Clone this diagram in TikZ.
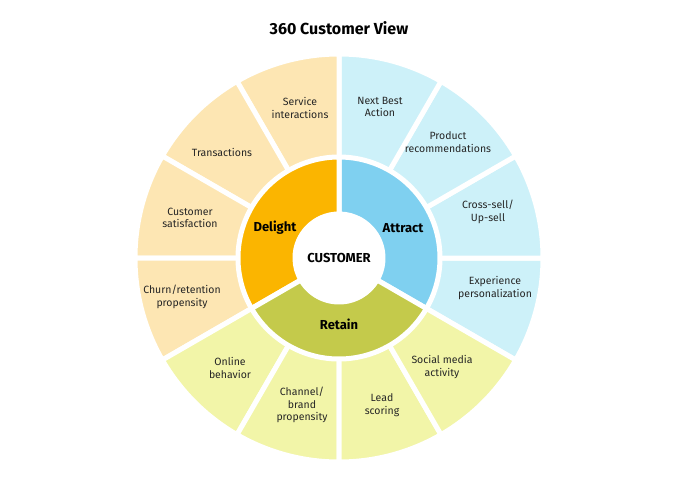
\documentclass[tikz,border=0pt]{standalone}
\usepackage{fontspec}
\setmainfont{Fira Sans}
\usetikzlibrary{positioning}
\definecolor{attractout}{HTML}{CDF1F9}
\definecolor{attractin}{HTML}{7FD0F0}
\definecolor{delightout}{HTML}{FDE6B3}
\definecolor{delightin}{HTML}{FBB500}
\definecolor{retainout}{HTML}{F2F5A8}
\definecolor{retainin}{HTML}{C4CA4B}
\tikzset{
  wedge/.style={draw=white, line width=5pt, line join=round},
  seg/.style={align=center, font=\fontsize{10.5}{12.5}\selectfont, text=black!85},
  core/.style={font=\bfseries\fontsize{13}{15}\selectfont}
}
\newcommand{\ringpart}[5]{% colour, from, to, inner, outer
  \filldraw[wedge, fill=#1] (#2:#4) arc (#2:#3:#4) -- (#3:#5) arc (#3:#2:#5) -- cycle;}

\begin{document}
\begin{tikzpicture}[x=1pt,y=1pt]
        \useasboundingbox (-339,-225) rectangle (340,258);
        \node [font=\bfseries\fontsize{16}{18}\selectfont] (Title) at (0,230) {360 Customer View};

        \foreach \a in {-30,0,30,60} {\ringpart{attractout}{\a}{\a+30}{100}{204}}
        \foreach \a in {90,120,150,180} {\ringpart{delightout}{\a}{\a+30}{100}{204}}
        \foreach \a in {210,240,270,300} {\ringpart{retainout}{\a}{\a+30}{100}{204}}

        \ringpart{attractin}{-30}{90}{44}{101}
        \ringpart{delightin}{90}{210}{44}{101}
        \ringpart{retainin}{210}{330}{44}{101}
        \fill[white] (0,0) circle (46);

        \node [core] (Cust) at (0,0) {CUSTOMER};
        \node [core] (Attract) at (64,30) {Attract};
        \node [core] (Delight) at (-64,30) {Delight};
        \node [core] (Retain) at (0,-66) {Retain};

        \node [seg] (NBA) at (41,151) {Next Best\\Action};
        \node [seg] (Prod) at (109,116) {Product\\recommendations};
        \node [seg] (Cross) at (149,46) {Cross-sell/\\Up-sell};
        \node [seg] (Exp) at (156,-30) {Experience\\personalization};
        \node [seg] (Social) at (103,-109) {Social media\\activity};
        \node [seg] (Lead) at (43,-147) {Lead\\scoring};
        \node [seg] (Channel) at (-37,-147) {Channel/\\brand\\propensity};
        \node [seg] (Online) at (-109,-110) {Online\\behavior};
        \node [seg] (Churn) at (-157,-39) {Churn/retention\\propensity};
        \node [seg] (Sat) at (-149,40) {Customer\\satisfaction};
        \node [seg] (Trans) at (-117,106) {Transactions};
        \node [seg] (Serv) at (-39,150) {Service\\interactions};
\end{tikzpicture}
\end{document}
